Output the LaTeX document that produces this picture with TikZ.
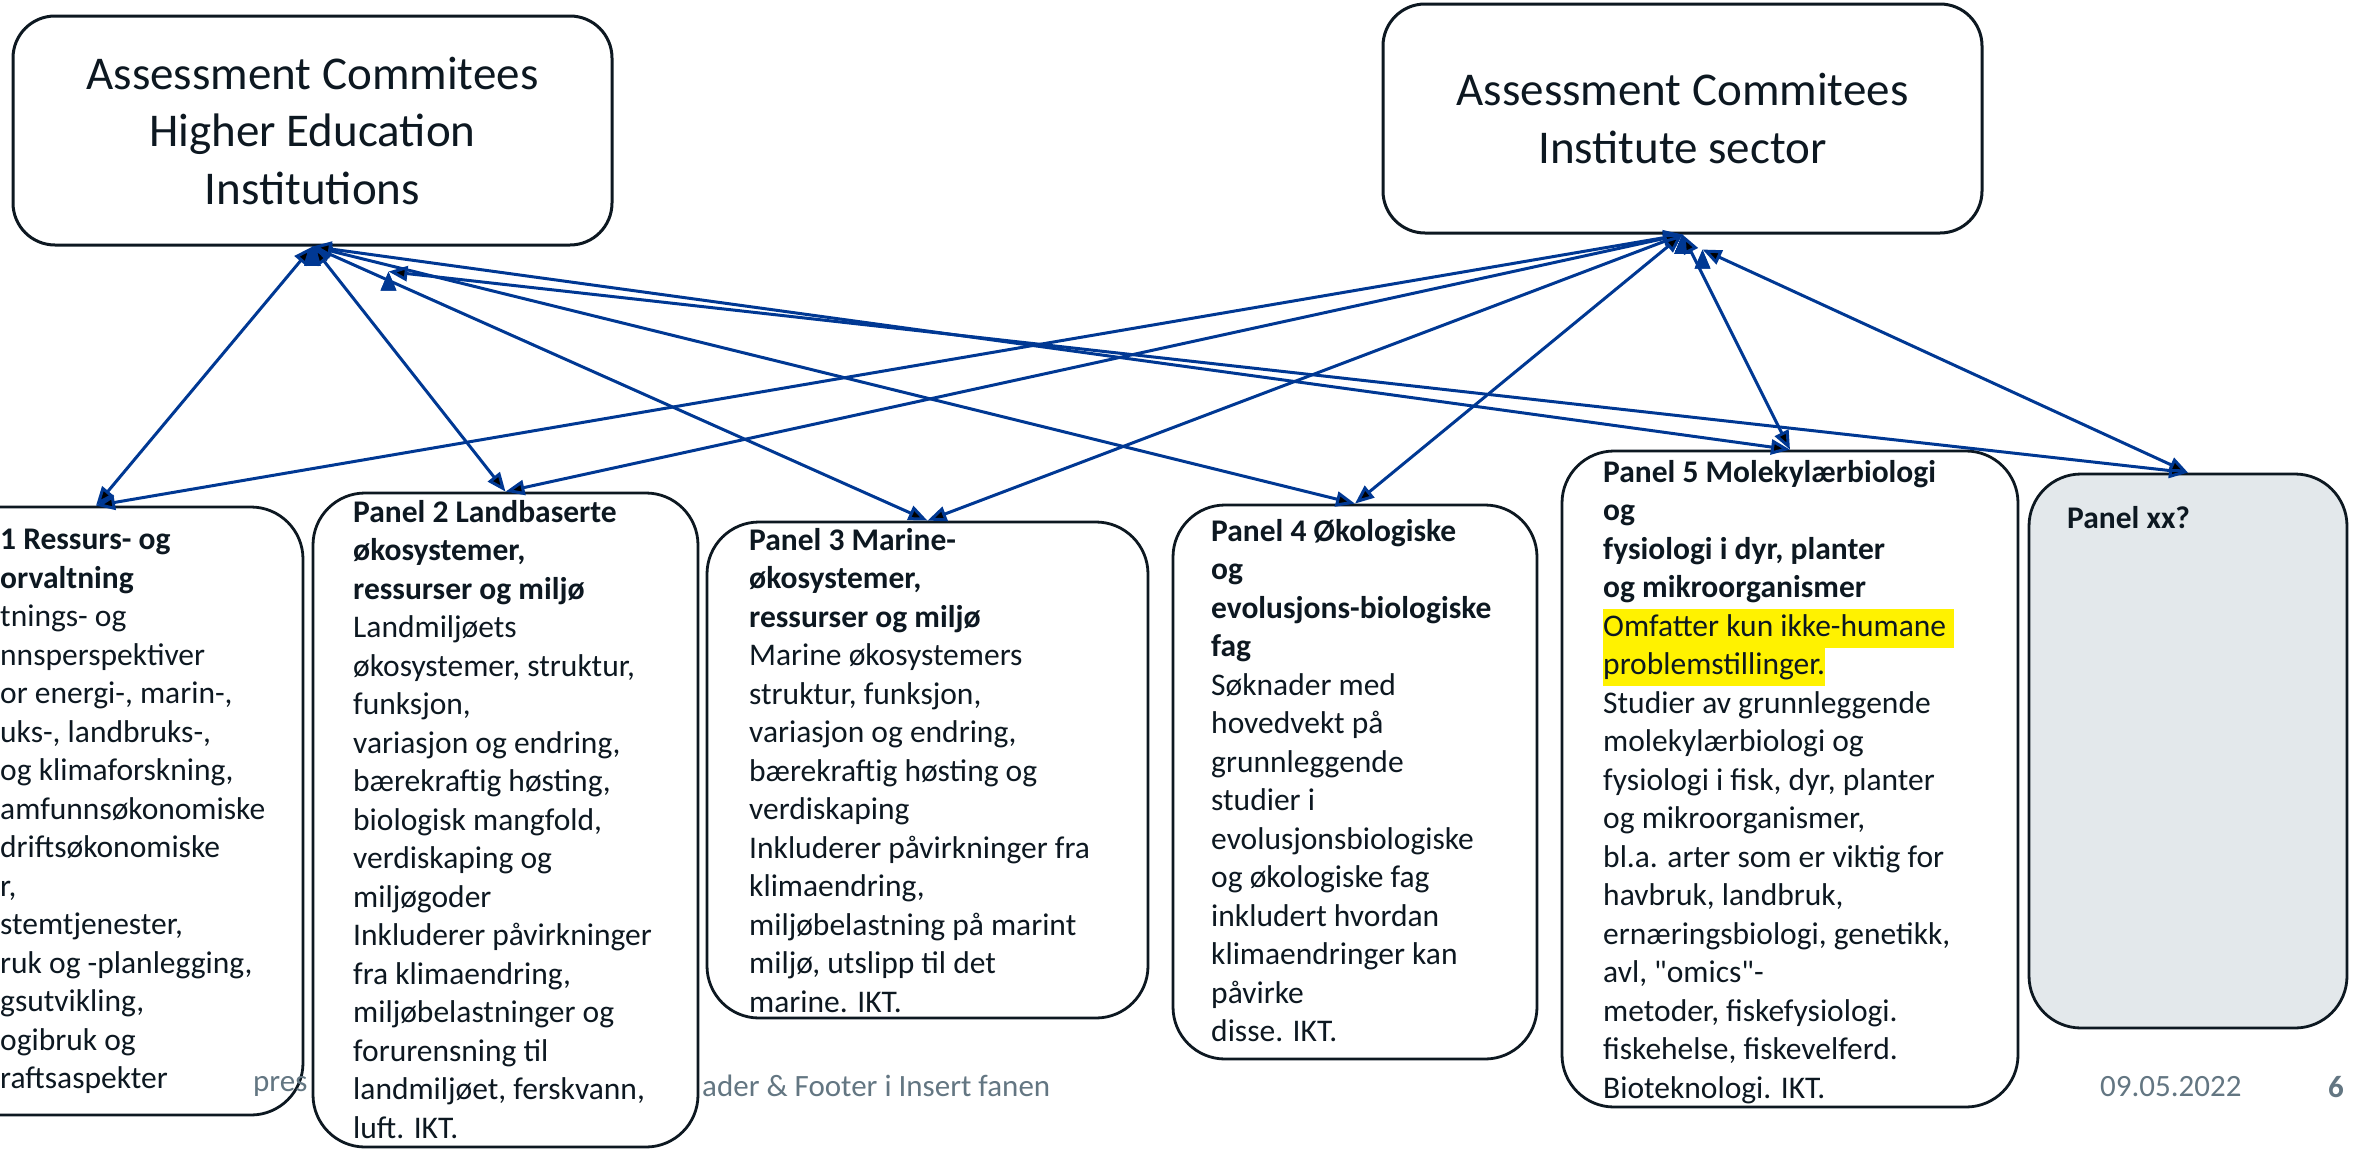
\documentclass[tikz,border=0pt]{standalone}
\usepackage{fontspec}
\setmainfont{Carlito}
\newfontfamily\plainq{Carlito}
\usetikzlibrary{arrows.meta}
\definecolor{linkblue}{RGB}{0,56,147}
\definecolor{ink}{RGB}{13,24,33}
\definecolor{footgrey}{RGB}{99,118,130}
\definecolor{boxgrey}{RGB}{227,232,235}
\setlength{\fboxsep}{0pt}
\newcommand{\hl}[1]{\colorbox{yellow}{\strut #1}}

\begin{document}
\begin{tikzpicture}[x=1pt, y=-1pt, >={Triangle[length=19pt,width=15pt]},
  link/.style={<->, draw=linkblue, line width=3pt},
  board/.style={draw=ink, line width=3pt, rounded corners=42pt, fill=white, minimum width=599pt, minimum height=229pt, align=center, text=ink, font=\fontsize{47}{57.5}\selectfont},
  panel/.style={draw=ink, line width=2.8pt, rounded corners=52pt, fill=white, inner sep=0pt},
  ptext/.style={anchor=north west, align=left, inner sep=0pt, text=ink, font=\fontsize{31.5}{38.5}\selectfont},
  footer/.style={anchor=west, inner sep=0pt, text=footgrey, font=\fontsize{31}{36}\selectfont}]
\useasboundingbox (0,0) rectangle (2356,1149);

% committees
\node [board] (hei) at (312.5,130.5) {Assessment Commitees\\Higher Education\\Institutions};
\node [board] (is) at (1682.5,118.5) {Assessment Commitees\\Institute sector};

% panels
\node [panel, fill=none, minimum width=414pt, minimum height=608pt] (p1) at (96,811) {};
\node [footer] (pres) at (253,1086) {pres};
\node [footer] (hf) at (702,1086) {ader \& Footer i Insert fanen};
\node [footer] (date) at (2100,1087) {09.05.2022};
\node [footer, anchor=center] (pg) at (2336,1087) {\textbf{6}};
\node [panel, minimum width=385pt, minimum height=654pt] (p2) at (505.5,820) {};
\node [panel, minimum width=441pt, minimum height=496pt] (p3) at (927.5,770) {};
\node [panel, minimum width=364pt, minimum height=554pt] (p4) at (1355,782) {};
\node [panel, minimum width=456pt, minimum height=656pt] (p5) at (1790,779) {};
\node [panel, fill=boxgrey, minimum width=318pt, minimum height=554pt] (pxx) at (2188,751) {};

\node [ptext] (p1txt) at (0,529) {\textbf{1 Ressurs- og}\\\textbf{orvaltning}\\tnings- og\\nnsperspektiver\\or energi-, marin-,\\uks-, landbruks-,\\og klimaforskning,\\amfunnsøkonomiske\\driftsøkonomiske\\r,\\stemtjenester,\\ruk og -planlegging,\\gsutvikling,\\ogibruk og\\raftsaspekter};
\node [ptext] (p2txt) at (353,500) {\textbf{Panel 2 Landbaserte}\\\textbf{økosystemer,}\\\textbf{ressurser og miljø}\\Landmiljøets\\økosystemer, struktur,\\funksjon,\\variasjon og endring,\\bærekraftig høsting,\\biologisk mangfold,\\verdiskaping og\\miljøgoder\\Inkluderer påvirkninger\\fra klimaendring,\\miljøbelastninger og\\forurensning til\\landmiljøet, ferskvann,\\luft. IKT.};
\node [ptext] (p3txt) at (749,528) {\textbf{Panel 3 Marine-}\\\textbf{økosystemer,}\\\textbf{ressurser og miljø}\\Marine økosystemers\\struktur, funksjon,\\variasjon og endring,\\bærekraftig høsting og\\verdiskaping\\Inkluderer påvirkninger fra\\klimaendring,\\miljøbelastning på marint\\miljø, utslipp til det\\marine. IKT.};
\node [ptext] (p4txt) at (1211,519) {\textbf{Panel 4 Økologiske}\\\textbf{og}\\\textbf{evolusjons-biologiske}\\\textbf{fag}\\Søknader med\\hovedvekt på\\grunnleggende\\studier i\\evolusjonsbiologiske\\og økologiske fag\\inkludert hvordan\\klimaendringer kan\\påvirke\\disse. IKT.};
\node [ptext] (p5txt) at (1603,460) {\textbf{Panel 5 Molekylærbiologi}\\\textbf{og}\\\textbf{fysiologi i dyr, planter}\\\textbf{og mikroorganismer}\\\hl{Omfatter kun ikke-humane\hspace{8pt}}\\\hl{problemstillinger.}\\Studier av grunnleggende\\molekylærbiologi og\\fysiologi i fisk, dyr, planter\\og mikroorganismer,\\bl.a. arter som er viktig for\\havbruk, landbruk,\\ernæringsbiologi, genetikk,\\avl, {\plainq"omics"}-\\metoder, fiskefysiologi.\\fiskehelse, fiskevelferd.\\Bioteknologi. IKT.};
\node [ptext] (pxxtxt) at (2067,506) {\textbf{Panel xx?}};

% links
\draw [link] (hei.south) edge (p1.north);
\draw [link] (hei.south) edge (p2.north);
\draw [link] (hei.south) edge (p3.north);
\draw [link] (hei.south) edge (p4.north);
\draw [link] (hei.south) edge (p5.north);
\draw [link] ([shift={(76,25)}]hei.south) edge (pxx.north);
\draw [link] (is.south) edge (p1.north);
\draw [link] (is.south) edge (p2.north);
\draw [link] (is.south) edge (p3.north);
\draw [link] (is.south) edge (p4.north);
\draw [link] (is.south) edge (p5.north);
\draw [link] ([shift={(20,15)}]is.south) edge (pxx.north);
\end{tikzpicture}
\end{document}
